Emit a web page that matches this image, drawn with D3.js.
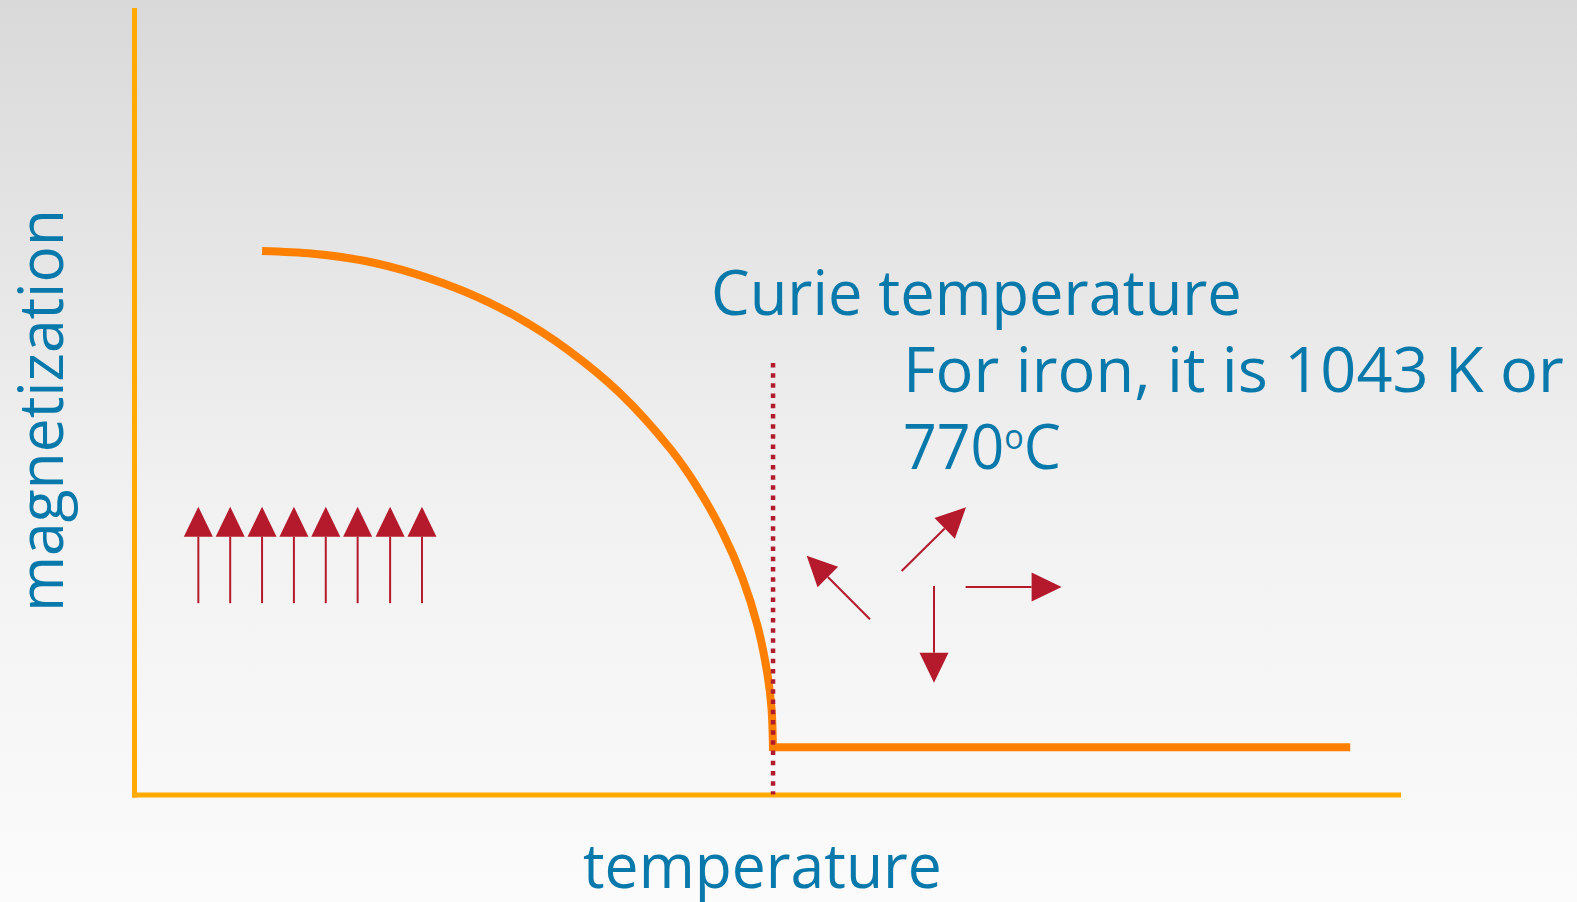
<!DOCTYPE html>
<html>
<head>
<meta charset="utf-8">
<script src="https://cdn.jsdelivr.net/npm/d3@7"></script>
<style>
  html, body { margin: 0; padding: 0; background: #f4f4f4; }
  svg { display: block; }
  text { font-family: "Open Sans", "DejaVu Sans", sans-serif; }
</style>
</head>
<body>
<svg id="chart" width="1577" height="902"></svg>
<script>
// Temperature axis in kelvin, magnetization normalised to its low-temperature value
const curveT = [209, 292.3, 375.7, 459.1, 542.5, 625.9, 709.3, 792.7, 876.1, 917.9, 959.5, 992.8, 1017.9, 1034.6, 1040.5, 1043];
const curveM = [1.000, 0.995, 0.982, 0.958, 0.924, 0.878, 0.817, 0.739, 0.635, 0.568, 0.485, 0.399, 0.309, 0.216, 0.158, 0.080];

// Paramagnetic region above the Curie point
const flatT = [1043, 1985];
const flatM = [0.087, 0.087];

// Curie temperature of iron
const curieT = 1043;
const curieMarkerTop = 0.794;

// Aligned spins below Tc (x position, tail and tip magnetization level)
const alignedT = [105, 157, 209, 261, 313, 365, 418, 470];
const alignedTail = 0.352;
const alignedTip = 0.5295;

// Randomly oriented spins above Tc: [tailT, tailM, tipT, tipM]
const randomSpins = [
  [1201.2, 0.3224, 1097.9, 0.4394],
  [1252.9, 0.4112, 1357.9, 0.5284],
  [1305.7, 0.3836, 1305.7, 0.2057],
  [1357.3, 0.382, 1514.0, 0.382]
];

const labels = {
  title: "Curie temperature",
  note1: "For iron, it is 1043 K or",
  xAxis: "temperature",
  yAxis: "magnetization"
};

const W = 1577, H = 902;
const svg = d3.select("#chart");

// Background wash
const defs = svg.append("defs");
const grad = defs.append("linearGradient")
  .attr("id", "bg").attr("x1", 0).attr("y1", 0).attr("x2", 0).attr("y2", 1);
grad.append("stop").attr("offset", "0%").attr("stop-color", "#d9d9d9");
grad.append("stop").attr("offset", "55%").attr("stop-color", "#f1f1f1");
grad.append("stop").attr("offset", "100%").attr("stop-color", "#fbfbfb");
svg.append("rect").attr("width", W).attr("height", H).attr("fill", "url(#bg)");

const x = d3.scaleLinear().domain([0, 2063]).range([134, 1398]);
const y = d3.scaleLinear().domain([0, 1.4434]).range([794.5, 10]);

const axisColor = "#ffaa00";
const curveColor = "#ff8000";
const spinColor = "#b5192c";
const textColor = "#0879aa";

// Axes: bare lines, no ticks
const gx = svg.append("g")
  .attr("transform", `translate(0,${y(0)})`)
  .call(d3.axisBottom(x).tickValues([]).tickSizeOuter(0));
const gy = svg.append("g")
  .attr("transform", `translate(${x(0)},0)`)
  .call(d3.axisLeft(y).tickValues([]).tickSizeOuter(0));
[gx, gy].forEach(g => g.select(".domain")
  .attr("stroke", axisColor)
  .attr("stroke-width", 5)
  .attr("stroke-linecap", "square"));

// Magnetization curve
const curveData = curveT.map((t, i) => [t, curveM[i]]);
svg.append("path")
  .datum(curveData)
  .attr("d", d3.line().x(d => x(d[0])).y(d => y(d[1])).curve(d3.curveCatmullRom.alpha(0.5)))
  .attr("fill", "none")
  .attr("stroke", curveColor)
  .attr("stroke-width", 8);

svg.append("path")
  .datum(flatT.map((t, i) => [t, flatM[i]]))
  .attr("d", d3.line().x(d => x(d[0])).y(d => y(d[1])))
  .attr("fill", "none")
  .attr("stroke", curveColor)
  .attr("stroke-width", 8);

// Dotted marker at the Curie point
svg.append("line")
  .attr("x1", x(curieT)).attr("x2", x(curieT))
  .attr("y1", y(curieMarkerTop)).attr("y2", y(0))
  .attr("stroke", "#b01c2e")
  .attr("stroke-width", 4.5)
  .attr("stroke-dasharray", "4.5 5.7");

// Spin arrows
function arrow(g, x1, y1, x2, y2) {
  const headLen = 30, headHalf = 14.5;
  const dx = x2 - x1, dy = y2 - y1;
  const len = Math.hypot(dx, dy);
  const ux = dx / len, uy = dy / len;
  const bx = x2 - ux * headLen, by = y2 - uy * headLen;
  g.append("line")
    .attr("x1", x1).attr("y1", y1).attr("x2", bx).attr("y2", by)
    .attr("stroke", spinColor).attr("stroke-width", 2);
  g.append("path")
    .attr("d", `M${x2},${y2}L${bx - uy * headHalf},${by + ux * headHalf}L${bx + uy * headHalf},${by - ux * headHalf}Z`)
    .attr("fill", spinColor);
}
const spins = svg.append("g");
alignedT.forEach(t => arrow(spins, x(t), y(alignedTail), x(t), y(alignedTip)));
randomSpins.forEach(s => arrow(spins, x(s[0]), y(s[1]), x(s[2]), y(s[3])));

// Text, each fitted to its span
function fit(sel, targetW, ox, oy, rot) {
  const w = sel.node().getBBox().width;
  const k = targetW / w;
  sel.attr("transform", `translate(${ox},${oy})${rot ? " rotate(-90)" : ""} scale(${k},1)`);
}
const fs = 62;

const t1 = svg.append("text").attr("font-size", fs).attr("fill", textColor).text(labels.title);
fit(t1, 531, 711, 315);

const t2 = svg.append("text").attr("font-size", fs).attr("fill", textColor).text(labels.note1);
fit(t2, 661, 903, 392);

const t3 = svg.append("text").attr("font-size", fs).attr("fill", textColor);
t3.append("tspan").text("770");
t3.append("tspan").attr("font-size", 34).attr("dy", -20).text("o");
t3.append("tspan").attr("dy", 20).text("C");
fit(t3, 158, 903, 469);

const tx = svg.append("text").attr("font-size", fs).attr("fill", textColor).text(labels.xAxis);
fit(tx, 359, 583, 888);

const ty = svg.append("text").attr("font-size", fs).attr("fill", textColor).text(labels.yAxis);
fit(ty, 403, 63, 612, true);
</script>
</body>
</html>
